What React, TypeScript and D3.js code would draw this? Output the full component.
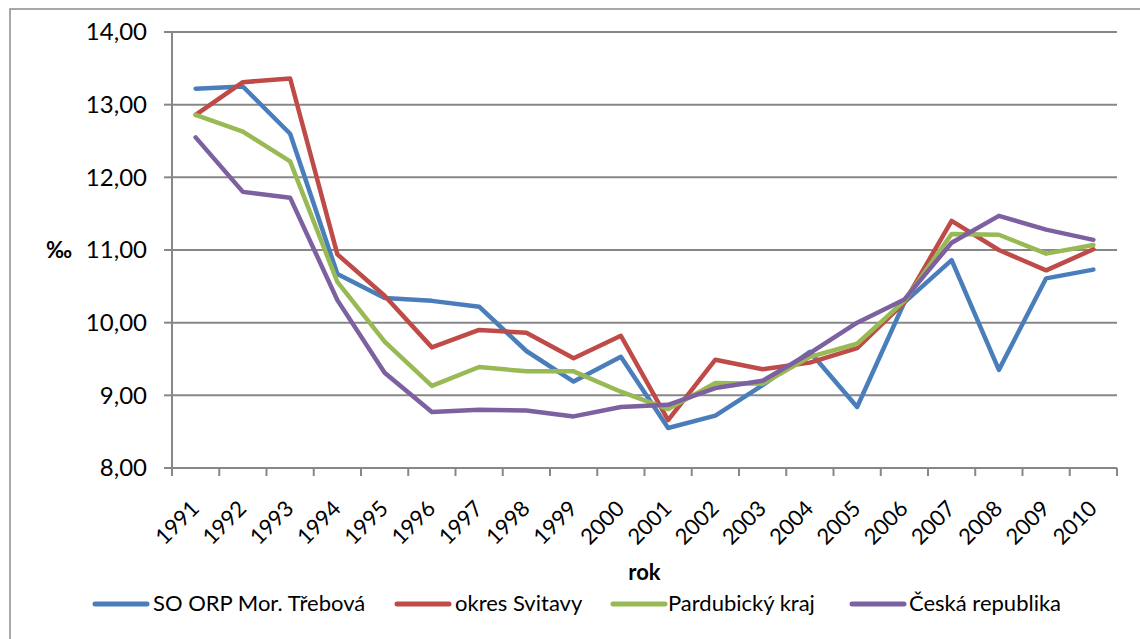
import React from "react";
import * as d3 from "d3";

const years = ["1991","1992","1993","1994","1995","1996","1997","1998","1999","2000","2001","2002","2003","2004","2005","2006","2007","2008","2009","2010"];
const orpMorTrebova = [13.22, 13.25, 12.60, 10.67, 10.34, 10.30, 10.22, 9.61, 9.19, 9.53, 8.55, 8.72, 9.14, 9.60, 8.84, 10.28, 10.86, 9.35, 10.61, 10.73];
const okresSvitavy = [12.86, 13.31, 13.36, 10.94, 10.37, 9.66, 9.90, 9.86, 9.51, 9.82, 8.66, 9.49, 9.36, 9.45, 9.65, 10.28, 11.40, 11.00, 10.72, 11.01];
const pardubickyKraj = [12.86, 12.63, 12.22, 10.56, 9.74, 9.13, 9.39, 9.33, 9.33, 9.05, 8.81, 9.17, 9.16, 9.53, 9.71, 10.30, 11.22, 11.21, 10.95, 11.07];
const ceskaRepublika = [12.55, 11.80, 11.72, 10.31, 9.31, 8.77, 8.80, 8.79, 8.71, 8.84, 8.87, 9.10, 9.20, 9.58, 10.00, 10.32, 11.10, 11.47, 11.28, 11.14];
const seriesNames = ["SO ORP Mor. Třebová", "okres Svitavy", "Pardubický kraj", "Česká republika"];
const seriesColors = ["#4A7EBB", "#BE4B48", "#98B954", "#7D60A0"];
const yTicks = [8, 9, 10, 11, 12, 13, 14];

const W = 1140, H = 639;
const left = 172, right = 1117, top = 32, bottom = 468;
const font = "Lato, 'Open Sans', sans-serif";
const gridColor = "#878787";

export default function App() {
  const allSeries = [orpMorTrebova, okresSvitavy, pardubickyKraj, ceskaRepublika];
  const x = d3.scaleBand<string>().domain(years).range([left, right]).padding(0);
  const bw = x.bandwidth();
  const cx = (yr: string) => (x(yr) as number) + bw / 2;
  const y = d3.scaleLinear().domain([8, 14]).range([bottom, top]);
  const line = d3.line<number>().x((_, i) => cx(years[i])).y((v) => y(v));
  const fmt = (v: number) => v.toFixed(2).replace(".", ",");

  const legendItems = [
    { lineX: 95, textX: 153 },
    { lineX: 397, textX: 455 },
    { lineX: 613, textX: 668 },
    { lineX: 852, textX: 909 },
  ];

  return (
    <svg width={W} height={H} style={{ position: "absolute", left: 0, top: 0, background: "#fff" }} fontFamily={font}>
      <rect x={10} y={9} width={W + 20} height={H + 20} fill="#fff" stroke="#8c8c8c" strokeWidth={1.5} />
      {yTicks.filter((t) => t > 8).map((t) => (
        <line key={"g" + t} x1={left} x2={right} y1={y(t)} y2={y(t)} stroke={gridColor} strokeWidth={2} />
      ))}
      <line x1={left} x2={left} y1={top} y2={bottom} stroke={gridColor} strokeWidth={2} />
      <line x1={left - 8} x2={right} y1={bottom} y2={bottom} stroke={gridColor} strokeWidth={2} />
      {yTicks.map((t) => (
        <g key={"yt" + t}>
          <line x1={left - 8} x2={left} y1={y(t)} y2={y(t)} stroke={gridColor} strokeWidth={2} />
          <text x={147} y={y(t)} dy="0.35em" textAnchor="end" fontSize={24} fill="#000">{fmt(t)}</text>
        </g>
      ))}
      {d3.range(years.length + 1).map((i) => (
        <line key={"xt" + i} x1={left + i * bw} x2={left + i * bw} y1={bottom} y2={bottom + 8} stroke={gridColor} strokeWidth={2} />
      ))}
      {years.map((yr) => (
        <text key={"xl" + yr} transform={`translate(${cx(yr) + 5},${bottom + 42}) rotate(-45)`} textAnchor="end" fontSize={22} fill="#000">{yr}</text>
      ))}
      <text x={59} y={y(11)} dy="0.35em" textAnchor="middle" fontSize={22} fontWeight="bold" fill="#000">‰</text>
      <text x={(left + right) / 2} y={580} textAnchor="middle" fontSize={22} fontWeight="bold" fill="#000">rok</text>
      {allSeries.map((s, i) => (
        <path key={"s" + i} d={line(s) as string} fill="none" stroke={seriesColors[i]} strokeWidth={4.5} strokeLinejoin="round" strokeLinecap="round" />
      ))}
      {legendItems.map((it, i) => (
        <g key={"lg" + i}>
          <line x1={it.lineX} x2={it.lineX + 52} y1={604} y2={604} stroke={seriesColors[i]} strokeWidth={5} strokeLinecap="round" />
          <text x={it.textX} y={611} fontSize={22} fill="#000">{seriesNames[i]}</text>
        </g>
      ))}
    </svg>
  );
}
